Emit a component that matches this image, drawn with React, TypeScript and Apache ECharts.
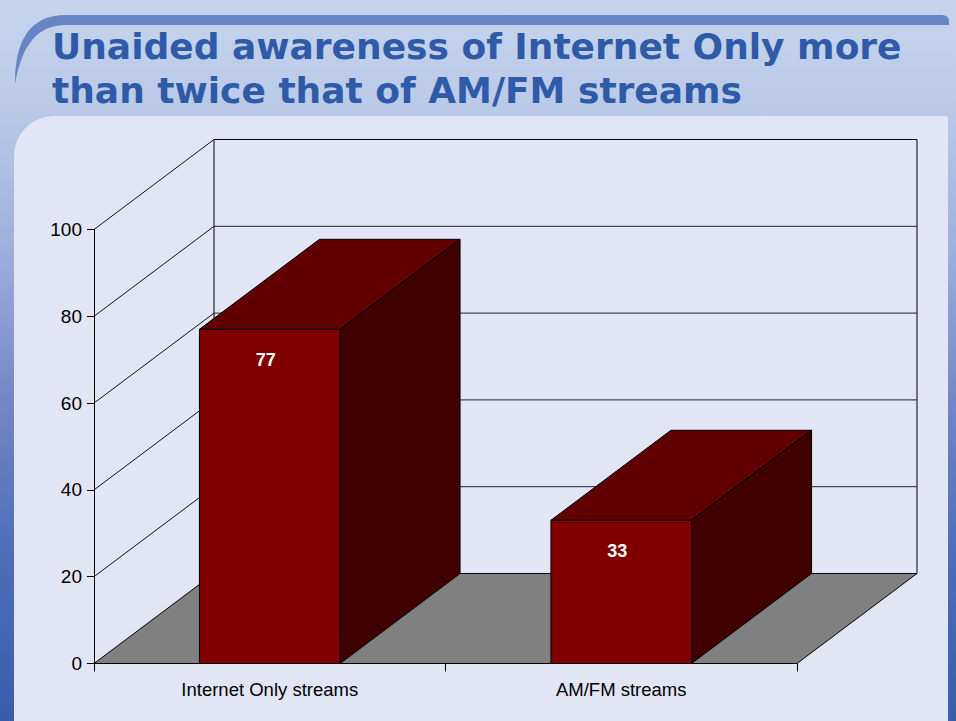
import React, { useEffect, useRef } from "react";
import * as echarts from "echarts";

// ---- data ----
const TITLE_LINES = [
  "Unaided awareness of Internet Only more",
  "than twice that of AM/FM streams",
];
const CATEGORIES = ["Internet Only streams", "AM/FM streams"];
const AWARENESS = [77, 33];
const Y_TICKS = [0, 20, 40, 60, 80, 100];
const Y_MIN = 0;
const Y_MAX = 100;
const Y_STEP = 20;

// ---- style constants ----
const DEPTH_X = 120;
const DEPTH_Y = -90;
const BAR_RATIO = 0.4;
const FRONT = "#800000";
const TOP = "#600000";
const SIDE = "#400000";
const FLOOR = "#808080";
const AXIS_FONT = '"Liberation Sans", Arial, sans-serif';

const SWOOSH =
  "M 15 84 C 15 40 30 15 66 15 L 942 15 Q 949 15 949 22 L 949 25 L 66 25 C 38 25 22 44 15 84 Z";

let shapesRegistered = false;
function ensureShapes() {
  if (shapesRegistered) return;
  echarts.graphic.registerShape("swoosh", echarts.graphic.extendPath(SWOOSH, {}) as any);
  shapesRegistered = true;
}

function buildOption(): any {
  const wallsRender = (params: any, api: any) => {
    const cs = params.coordSys;
    const L = cs.x;
    const R = cs.x + cs.width;
    const yBase = api.coord([0, Y_MIN])[1];
    const yTop = api.coord([0, Y_MAX])[1];
    const children: any[] = [];
    // back wall
    children.push({
      type: "rect",
      shape: { x: L + DEPTH_X, y: yTop + DEPTH_Y, width: R - L, height: yBase - yTop },
      style: { fill: "none", stroke: "#000", lineWidth: 1 },
    });
    Y_TICKS.forEach((v) => {
      const y = api.coord([0, v])[1];
      if (v !== Y_MIN && v !== Y_MAX) {
        children.push({
          type: "line",
          shape: { x1: L + DEPTH_X, y1: y + DEPTH_Y, x2: R + DEPTH_X, y2: y + DEPTH_Y },
          style: { stroke: "#222", lineWidth: 1 },
        });
      }
      if (v !== Y_MIN) {
        children.push({
          type: "line",
          shape: { x1: L, y1: y, x2: L + DEPTH_X, y2: y + DEPTH_Y },
          style: { stroke: "#111", lineWidth: 1 },
        });
      }
    });
    // floor
    children.push({
      type: "polygon",
      shape: {
        points: [
          [L, yBase],
          [R, yBase],
          [R + DEPTH_X, yBase + DEPTH_Y],
          [L + DEPTH_X, yBase + DEPTH_Y],
        ],
      },
      style: { fill: FLOOR, stroke: "#000", lineWidth: 1 },
    });
    return { type: "group", children };
  };

  const barsRender = (params: any, api: any) => {
    const i = api.value(0);
    const v = api.value(1);
    const top = api.coord([i, v]);
    const base = api.coord([i, Y_MIN]);
    const w = api.size([1, 0])[0] * BAR_RATIO;
    const x0 = top[0] - w / 2;
    const x1 = top[0] + w / 2;
    const yT = top[1];
    const yB = base[1];
    return {
      type: "group",
      children: [
        {
          type: "polygon",
          shape: {
            points: [
              [x0, yT],
              [x0 + DEPTH_X, yT + DEPTH_Y],
              [x1 + DEPTH_X, yT + DEPTH_Y],
              [x1, yT],
            ],
          },
          style: { fill: TOP, stroke: "#000", lineWidth: 1 },
        },
        {
          type: "polygon",
          shape: {
            points: [
              [x1, yT],
              [x1 + DEPTH_X, yT + DEPTH_Y],
              [x1 + DEPTH_X, yB + DEPTH_Y],
              [x1, yB],
            ],
          },
          style: { fill: SIDE, stroke: "#000", lineWidth: 1 },
        },
        {
          type: "rect",
          shape: { x: x0, y: yT, width: x1 - x0, height: yB - yT },
          style: { fill: FRONT, stroke: "#000", lineWidth: 1 },
        },
        {
          type: "text",
          x: top[0] - 4,
          y: yT + 31,
          style: {
            text: String(v),
            fill: "#ffffff",
            font: `bold 18px ${AXIS_FONT}`,
            align: "center",
            verticalAlign: "middle",
          },
        },
      ],
    };
  };

  return {
    animation: false,
    backgroundColor: "transparent",
    graphic: [
      {
        type: "rect",
        z: -100,
        silent: true,
        shape: { x: 0, y: 0, width: 956, height: 721 },
        style: {
          fill: {
            type: "linear",
            x: 0,
            y: 0,
            x2: 0,
            y2: 1,
            colorStops: [
              { offset: 0, color: "#c6d4ed" },
              { offset: 0.16, color: "#b8c9e7" },
              { offset: 0.35, color: "#9cafdb" },
              { offset: 0.55, color: "#7587c5" },
              { offset: 0.75, color: "#5070b8" },
              { offset: 1, color: "#3a5cab" },
            ],
          },
        },
      },
      {
        type: "swoosh",
        z: -90,
        silent: true,
        x: 0,
        y: 0,
        style: { fill: "#6984c5" },
      },
      {
        type: "rect",
        z: -80,
        silent: true,
        shape: { x: 14, y: 116, width: 934, height: 620, r: [40, 3, 0, 0] },
        style: { fill: "#e1e5f4" },
      },
      {
        type: "text",
        z: 10,
        x: 52,
        y: 46,
        style: {
          text: TITLE_LINES[0],
          fill: "#2f5aa8",
          font: 'bold 36px "DejaVu Sans", sans-serif',
          align: "left",
          verticalAlign: "middle",
        },
      },
      {
        type: "text",
        z: 10,
        x: 52,
        y: 90.5,
        style: {
          text: TITLE_LINES[1],
          fill: "#2f5aa8",
          font: 'bold 36px "DejaVu Sans", sans-serif',
          align: "left",
          verticalAlign: "middle",
        },
      },
    ],
    grid: {
      left: 94,
      right: 159,
      top: 229.5,
      bottom: 57.5,
      containLabel: false,
      outerBoundsMode: "none",
    },
    xAxis: {
      type: "category",
      data: CATEGORIES,
      boundaryGap: true,
      axisLine: { show: true, lineStyle: { color: "#000", width: 1 } },
      axisTick: { show: true, length: 8, lineStyle: { color: "#000" } },
      axisLabel: { color: "#000", fontSize: 18.5, fontFamily: AXIS_FONT, margin: 16 },
      splitLine: { show: false },
    },
    yAxis: {
      type: "value",
      min: Y_MIN,
      max: Y_MAX,
      interval: Y_STEP,
      axisLine: { show: true, lineStyle: { color: "#000", width: 1 } },
      axisTick: { show: true, length: 7, lineStyle: { color: "#000" } },
      axisLabel: { color: "#000", fontSize: 19, fontFamily: AXIS_FONT, margin: 12 },
      splitLine: { show: false },
    },
    series: [
      {
        type: "custom",
        name: "walls",
        silent: true,
        clip: false,
        z: 1,
        data: [[0, Y_MIN]],
        encode: { x: 0, y: 1 },
        renderItem: wallsRender,
      },
      {
        type: "custom",
        name: "Unaided awareness",
        silent: true,
        clip: false,
        z: 2,
        data: AWARENESS.map((v, i) => [i, v]),
        encode: { x: 0, y: 1 },
        renderItem: barsRender,
      },
    ],
  };
}

export default function App() {
  const ref = useRef<HTMLDivElement>(null);
  useEffect(() => {
    if (!ref.current) return;
    ensureShapes();
    const chart = echarts.init(ref.current, null, { renderer: "svg" });
    chart.setOption(buildOption());
    return () => {
      chart.dispose();
    };
  }, []);
  return (
    <div
      ref={ref}
      style={{ position: "absolute", left: 0, top: 0, width: 956, height: 721 }}
    />
  );
}
